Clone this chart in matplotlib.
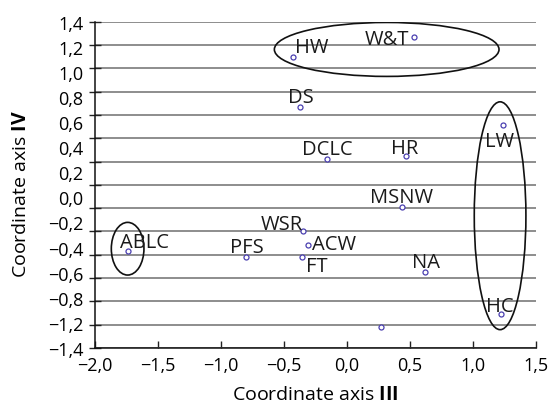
import numpy as np
import matplotlib
matplotlib.use("Agg")
import matplotlib.pyplot as plt
from matplotlib.patches import Ellipse

plt.rcParams['font.family'] = ['Open Sans', 'DejaVu Sans']
plt.rcParams['mathtext.fontset'] = 'custom'
plt.rcParams['mathtext.bf'] = 'Open Sans:bold'
plt.rcParams['mathtext.rm'] = 'Open Sans'

# ---- data ----
labels = ["W&T", "HW", "DS", "DCLC", "HR", "LW", "MSNW", "WSR", "ACW",
          "FT", "NA", "HC", "", "ABLC", "PFS"]
x_vals = [0.53, -0.43, -0.37, -0.16, 0.47, 1.24, 0.44, -0.35, -0.31,
          -0.36, 0.62, 1.22, 0.27, -1.74, -0.80]
y_vals = [1.27, 1.10, 0.67, 0.22, 0.25, 0.51, -0.19, -0.40, -0.52,
          -0.62, -0.75, -1.11, -1.22, -0.57, -0.62]
# label anchor positions (center x, baseline y)
label_x = [0.32, -0.28, -0.365, -0.158, 0.46, 1.212, 0.434, -0.521, -0.099,
           -0.242, 0.63, 1.215, 0.0, -1.609, -0.796]
label_y = [1.2075, 1.136, 0.713, 0.264, 0.273, 0.335, -0.150, -0.379, -0.551,
           -0.737, -0.708, -1.080, 0.0, -0.536, -0.579]

x_ticks = [-2.0, -1.5, -1.0, -0.5, 0.0, 0.5, 1.0, 1.5]
x_tick_labels = ["\u22122,0", "\u22121,5", "\u22121,0", "\u22120,5", "0,0", "0,5", "1,0", "1,5"]
y_grid = [-1.4, -1.2, -1.0, -0.8, -0.6, -0.4, -0.2, 0.0, 0.2, 0.4, 0.6, 0.8, 1.0, 1.2, 1.4]
y_tick_labels = ["1,4", "1,2", "1,0", "0,8", "0,6", "0,4", "0,2", "0,0",
                 "\u22120,2", "\u22120,4", "\u22120,6", "\u22120,8", "\u22121,2", "\u22121,4"]

# groups (ellipses): center x, center y, width, height
ell_cx = [0.315, 1.215, -1.741]
ell_cy = [1.162, -0.265, -0.548]
ell_w = [1.783, 0.41, 0.259]
ell_h = [0.463, 1.955, 0.452]

fig = plt.figure(figsize=(5.49, 4.06), dpi=100)
ax = fig.add_axes([95/549, 1 - 349/406, (536-95)/549, (349-22.7)/406])

ax.set_xlim(-2.0, 1.5)
ax.set_ylim(-1.4, 1.4)

# grid lines
ax.set_yticks(y_grid)
ax.set_yticklabels([])
ax.yaxis.grid(True, color="#858585", linewidth=1.3)
ax.set_axisbelow(True)
ax.yaxis.remove_overlapping_locs = False
ax.set_yticks(np.linspace(1.4, -1.4, len(y_tick_labels)), y_tick_labels, minor=True)
ax.tick_params(axis='y', which='minor', length=0, labelsize=13, pad=8.5)
ax.tick_params(axis='y', which='major', direction='inout', length=8, width=1, color='#222222')

ax.set_xticks(x_ticks, x_tick_labels)
ax.tick_params(axis='x', direction='in', length=5, width=1, labelsize=13, pad=6, color='#222222')

for s in ['top', 'right']:
    ax.spines[s].set_visible(False)
for s in ['left', 'bottom']:
    ax.spines[s].set_linewidth(1.1)
    ax.spines[s].set_color('#111111')

ax.plot(x_vals, y_vals, linestyle='none', marker='o', markersize=3.6,
        markerfacecolor='white', markeredgecolor='#4a3fb0', markeredgewidth=0.9,
        zorder=4)

for lab, lx, ly in zip(labels, label_x, label_y):
    if lab:
        ax.text(lx, ly, lab, ha='center', va='baseline', fontsize=14.5,
                color='#1a1a1a', zorder=5)

for cx, cy, w, h in zip(ell_cx, ell_cy, ell_w, ell_h):
    ax.add_patch(Ellipse((cx, cy), w, h, fill=False, edgecolor='#111111',
                         linewidth=1.2, zorder=3))

ax.set_xlabel(r"Coordinate axis $\mathbf{III}$", fontsize=14, labelpad=8)
ax.set_ylabel(r"Coordinate axis $\mathbf{IV}$", fontsize=14, labelpad=12.5)
ax.yaxis.label.set_y(0.475)

fig.savefig("out.png", dpi=100)
